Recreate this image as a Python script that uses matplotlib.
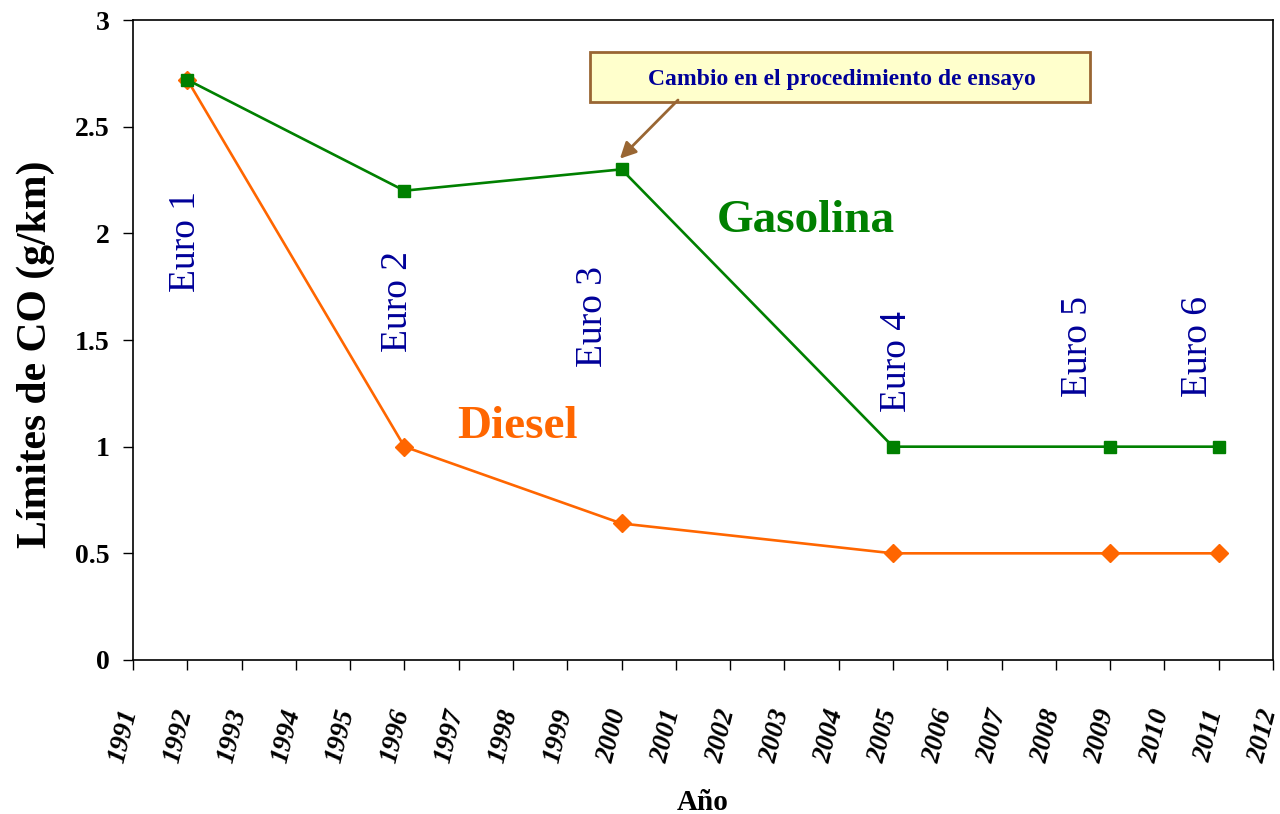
import matplotlib
matplotlib.use("Agg")
import matplotlib.pyplot as plt
import matplotlib.transforms as mtransforms
from matplotlib.patches import Rectangle

years_gas = [1992, 1996, 2000, 2005, 2009, 2011]
co_gasolina = [2.72, 2.2, 2.3, 1.0, 1.0, 1.0]
years_diesel = [1992, 1996, 2000, 2005, 2009, 2011]
co_diesel = [2.72, 1.0, 0.64, 0.5, 0.5, 0.5]

euro_labels = ["Euro 1", "Euro 2", "Euro 3", "Euro 4", "Euro 5", "Euro 6"]
euro_x = [1991.98, 1995.87, 1999.47, 2005.07, 2008.40, 2010.62]
euro_y = [1.96, 1.68, 1.61, 1.40, 1.47, 1.47]

x_ticks = list(range(1991, 2013))
x_ticklabels = [str(y) for y in x_ticks]
y_ticks = [0, 0.5, 1, 1.5, 2, 2.5, 3]
y_ticklabels = ["0", "0.5", "1", "1.5", "2", "2.5", "3"]

plt.rcParams['font.family'] = ['Liberation Serif', 'DejaVu Serif']

fig = plt.figure(figsize=(12.8, 8.14), dpi=100)
ax = fig.add_axes([0.1039, 0.1892, 0.8906, 0.7862])

GREEN = '#008000'
ORANGE = '#FF6600'
BLUE = '#000099'
BROWN = '#996633'

ax.plot(years_diesel, co_diesel, color=ORANGE, lw=1.9, marker='D', markersize=9,
        markeredgecolor=ORANGE, markerfacecolor=ORANGE, zorder=3)
ax.plot(years_gas, co_gasolina, color=GREEN, lw=1.9, marker='s', markersize=8.5,
        markeredgecolor=GREEN, markerfacecolor=GREEN, zorder=4)

ax.set_xlim(1991, 2012)
ax.set_ylim(0, 3)
ax.set_xticks(x_ticks)
ax.set_xticklabels([])
# x tick labels drawn as text, slightly shifted left as in the original
lbl_trans = ax.get_xaxis_transform() + mtransforms.ScaledTranslation(-9 / 100, -47 / 100, fig.dpi_scale_trans)
for xv, lab in zip(x_ticks, x_ticklabels):
    ax.text(xv, 0, lab, transform=lbl_trans, rotation=76, fontsize=19.5,
            fontweight='bold', fontstyle='italic', ha='center', va='top', clip_on=False)
ax.set_yticks(y_ticks)
ax.set_yticklabels(y_ticklabels, fontsize=20, fontweight='bold')
ax.tick_params(axis='x', direction='out', length=7, width=1)
ax.tick_params(axis='y', direction='out', length=7, width=1, pad=10)
for sp in ax.spines.values():
    sp.set_linewidth(1.2)

ax.set_ylabel("Límites de CO (g/km)", fontsize=30, fontweight='bold', va='center')
ax.yaxis.set_label_coords(-0.0855, 0.478)
ax.set_xlabel("Año", fontsize=21, fontweight='bold', va='center')
ax.xaxis.set_label_coords(0.5, -0.2225)

for lab, x, y in zip(euro_labels, euro_x, euro_y):
    ax.text(x, y, lab, rotation=90, ha='center', va='center', fontsize=27, color=BLUE)

ax.text(2003.40, 2.06, "Gasolina", color=GREEN, fontsize=34, fontweight='bold',
        ha='center', va='center')
ax.text(1998.09, 1.09, "Diesel", color=ORANGE, fontsize=34, fontweight='bold',
        ha='center', va='center')

box = Rectangle((0.4009, 0.8719), 0.4386, 0.078, transform=ax.transAxes,
                facecolor='#FFFFCC', edgecolor=BROWN, lw=2, zorder=5)
ax.add_patch(box)
ax.text(0.4009 + 0.4386 / 2 + 0.002, 0.8719 + 0.078 / 2 - 0.004,
        "Cambio en el procedimiento de ensayo",
        transform=ax.transAxes, ha='center', va='center', fontsize=17,
        fontweight='bold', color=BLUE, zorder=6)

ax.annotate("", xy=(1999.97, 2.35), xytext=(2001.04, 2.625),
            arrowprops=dict(arrowstyle='-|>', color=BROWN, lw=2, mutation_scale=24,
                            shrinkA=0, shrinkB=0), zorder=6)

fig.savefig("out.png", dpi=100)
